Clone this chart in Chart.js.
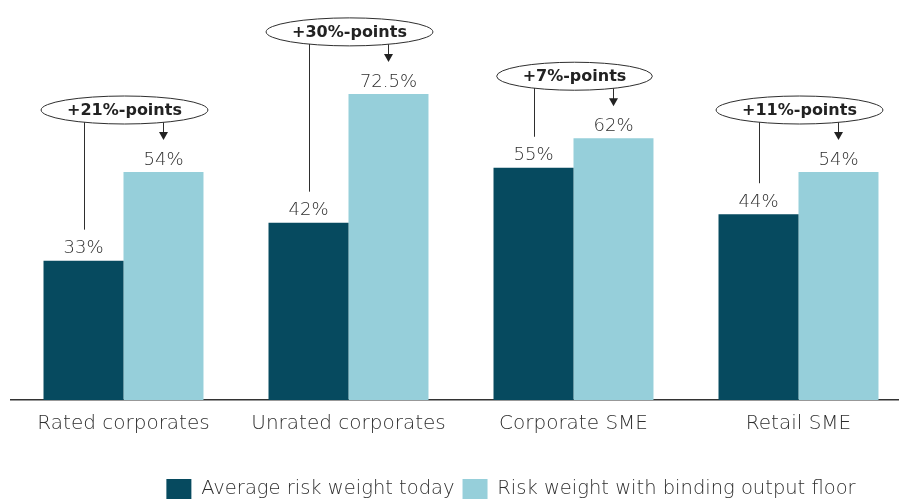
<!DOCTYPE html>
<html>
<head>
<meta charset="utf-8">
<script src="https://cdn.jsdelivr.net/npm/chart.js@4/dist/chart.umd.min.js"></script>
<style>
  html, body { margin: 0; padding: 0; background: #fff; overflow: hidden; }
  #wrap { position: relative; width: 911px; height: 499px; }
</style>
</head>
<body>
<div id="wrap"><canvas id="c"></canvas></div>
<script>
// ---- data ----
const categories = ['Rated corporates', 'Unrated corporates', 'Corporate SME', 'Retail SME'];
const averageToday = [33, 42, 55, 44];
const bindingFloor = [54, 72.5, 62, 54];
const upliftLabels = ['+21%-points', '+30%-points', '+7%-points', '+11%-points'];
const seriesNames = ['Average risk weight today', 'Risk weight with binding output floor'];

const DARK = 'rgb(6,74,95)';
const LIGHT = 'rgb(150,207,218)';
const INK = '#2e2e2e';
const FONT = '"DejaVu Sans", sans-serif';

const shiftLegend = {
  id: 'shiftLegend',
  afterLayout(chart) {
    if (chart.legend) { chart.legend.left += 50; chart.legend.right += 50; }
  }
};

const annotate = {
  id: 'annotate',
  afterDatasetsDraw(chart) {
    const ctx = chart.ctx;
    const m0 = chart.getDatasetMeta(0).data;
    const m1 = chart.getDatasetMeta(1).data;
    ctx.save();
    // value labels
    ctx.fillStyle = INK;
    ctx.font = '200 18px ' + FONT;
    ctx.textAlign = 'center';
    ctx.textBaseline = 'middle';
    [[m0, averageToday], [m1, bindingFloor]].forEach(([els, vals]) => {
      els.forEach((el, i) => ctx.fillText(vals[i] + '%', el.x, el.y - 12));
    });
    // uplift ellipses
    ctx.strokeStyle = INK;
    ctx.lineWidth = 1;
    for (let i = 0; i < categories.length; i++) {
      const d = m0[i], l = m1[i];
      const cx = (d.x + l.x) / 2 + 1;
      const cy = l.y - 62;
      ctx.font = 'bold 16px ' + FONT;
      const tw = ctx.measureText(upliftLabels[i]).width;
      const rx = tw / 2 + 26, ry = 14;
      ctx.beginPath();
      ctx.ellipse(cx, cy, rx, ry, 0, 0, Math.PI * 2);
      ctx.fillStyle = '#fff';
      ctx.fill();
      ctx.stroke();
      ctx.fillStyle = '#222';
      ctx.fillText(upliftLabels[i], cx, cy + 1);
      // line to dark bar
      const dxL = (d.x - cx) / rx;
      const yL = cy + ry * Math.sqrt(Math.max(0, 1 - dxL * dxL));
      ctx.beginPath();
      ctx.moveTo(Math.round(d.x) + 0.5, yL);
      ctx.lineTo(Math.round(d.x) + 0.5, d.y - 31);
      ctx.stroke();
      // arrow to light bar
      const dxA = (l.x - cx) / rx;
      const yA = cy + ry * Math.sqrt(Math.max(0, 1 - dxA * dxA));
      const tip = l.y - 32;
      const ax = Math.round(l.x) + 0.5;
      ctx.beginPath();
      ctx.moveTo(ax, yA);
      ctx.lineTo(ax, tip - 7);
      ctx.stroke();
      ctx.beginPath();
      ctx.moveTo(ax - 4.5, tip - 8);
      ctx.lineTo(ax + 4.5, tip - 8);
      ctx.lineTo(ax, tip);
      ctx.closePath();
      ctx.fillStyle = '#222';
      ctx.fill();
    }
    ctx.restore();
  }
};

new Chart(document.getElementById('c'), {
  type: 'bar',
  data: {
    labels: categories,
    datasets: [
      { label: seriesNames[0], data: averageToday, backgroundColor: DARK, borderWidth: 0 },
      { label: seriesNames[1], data: bindingFloor, backgroundColor: LIGHT, borderWidth: 0 }
    ]
  },
  options: {
    responsive: true,
    maintainAspectRatio: false,
    animation: false,
    layout: { padding: { left: 11, right: 0, top: 20, bottom: -10 } },
    plugins: {
      legend: {
        position: 'bottom',
        align: 'center',
        labels: {
          boxWidth: 25, boxHeight: 20, padding: 8,
          color: INK,
          font: { family: FONT, size: 19.5, weight: '200' }
        }
      },
      tooltip: { enabled: false }
    },
    datasets: { bar: { categoryPercentage: 0.711, barPercentage: 1 } },
    scales: {
      x: {
        grid: { display: false, drawTicks: false },
        border: { display: true, color: '#333', width: 1.5 },
        ticks: { color: INK, font: { family: FONT, size: 20, weight: '200' }, padding: 12 },
        afterFit(scale) { scale.height += 23; }
      },
      y: { display: false, min: 0, max: 90 }
    }
  },
  plugins: [annotate, shiftLegend]
});
</script>
</body>
</html>
